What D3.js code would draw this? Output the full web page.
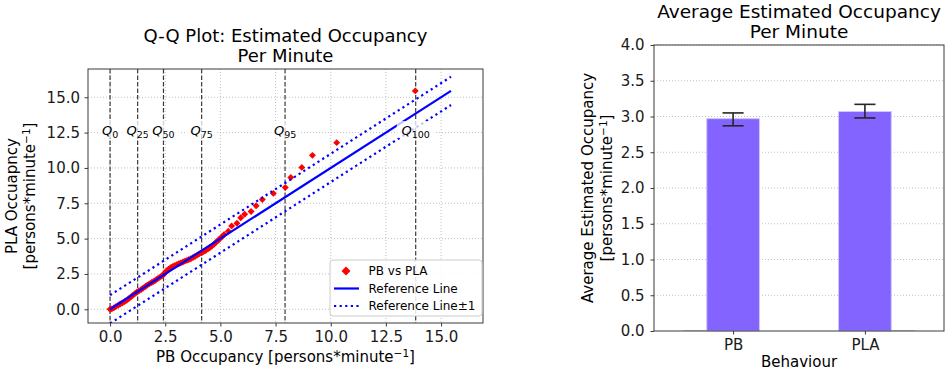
<!DOCTYPE html>
<html>
<head>
<meta charset="utf-8">
<script src="https://cdn.jsdelivr.net/npm/d3@7"></script>
<style>
  body { margin: 0; background: #fff; }
  svg { font-family: "DejaVu Sans", sans-serif; }
</style>
</head>
<body>
<svg id="chart" width="949" height="372"></svg>
<script>
// Q-Q points (PB quantiles vs PLA quantiles)
const pbQuant = [0.0, 0.08, 0.17, 0.26, 0.37, 0.46, 0.55, 0.66, 0.75, 0.84, 0.93, 1.02, 1.12, 1.21, 1.3, 1.41, 1.5, 1.6, 1.69, 1.78, 1.88, 1.97, 2.06, 2.15, 2.25, 2.34, 2.42, 2.5, 2.57, 2.65, 2.74, 2.83, 2.92, 3.02, 3.11, 3.2, 3.3, 3.39, 3.48, 3.57, 3.66, 3.76, 3.85, 3.95, 4.04, 4.15, 4.24, 4.33, 4.43, 4.52, 4.61, 4.7, 4.79, 4.88, 4.96, 5.06, 5.17, 5.36, 5.51, 5.75, 5.92, 6.1, 6.39, 6.62, 6.9, 7.4, 7.94, 8.19, 8.69, 9.17, 10.27, 13.83];
const plaQuant = [0.0, 0.03, 0.1, 0.19, 0.29, 0.37, 0.45, 0.55, 0.64, 0.74, 0.86, 0.98, 1.1, 1.2, 1.29, 1.4, 1.5, 1.61, 1.71, 1.8, 1.89, 1.97, 2.06, 2.16, 2.26, 2.36, 2.46, 2.6, 2.73, 2.84, 2.94, 3.02, 3.09, 3.16, 3.22, 3.28, 3.35, 3.41, 3.46, 3.52, 3.58, 3.66, 3.74, 3.83, 3.92, 4.0, 4.08, 4.16, 4.26, 4.36, 4.47, 4.59, 4.72, 4.85, 4.97, 5.12, 5.29, 5.53, 5.9, 6.09, 6.47, 6.73, 6.92, 7.32, 7.77, 8.2, 8.62, 9.33, 10.04, 10.89, 11.79, 15.45];
const refLine = [0, 15.45];
const quantileAt = [0, 1.25, 2.42, 4.15, 7.93, 13.85];
const quantileName = ["0", "25", "50", "75", "95", "100"];
const qqTicks = [0, 2.5, 5, 7.5, 10, 12.5, 15];

// bar chart
const behaviours = ["PB", "PLA"];
const meanOcc = [2.97, 3.07];
const errLow = [2.87, 2.98];
const errHigh = [3.05, 3.17];
const emptyBarsAt = [-0.38, 1.2];
const barTicks = [0, 0.5, 1, 1.5, 2, 2.5, 3, 3.5, 4];

const svg = d3.select("#chart");
const fmt = d3.format(".1f");
const gridColor = "#b0b0b0";

function unitLabel(sel, main) {
  sel.append("tspan").text(main);
  sel.append("tspan").attr("font-size", "10.5px").attr("dy", "-0.5em").text("\u22121");
  sel.append("tspan").attr("dy", "0.35em").text("]");
}

// ---------- left: Q-Q plot ----------
const L = { left: 88, right: 483, top: 69, bottom: 323 };
const x = d3.scaleLinear().domain([-1.0, 16.9]).range([L.left, L.right]);
const y = d3.scaleLinear().domain([-0.97, 17.0]).range([L.bottom, L.top]);

svg.append("defs").append("clipPath").attr("id", "qqclip")
  .append("rect").attr("x", L.left).attr("y", L.top)
  .attr("width", L.right - L.left).attr("height", L.bottom - L.top);

const gq = svg.append("g");
const plot = gq.append("g").attr("clip-path", "url(#qqclip)");

// grid
plot.selectAll(".gx").data(qqTicks).enter().append("line")
  .attr("x1", d => x(d)).attr("x2", d => x(d)).attr("y1", L.top).attr("y2", L.bottom)
  .attr("stroke", gridColor).attr("stroke-width", 0.8).attr("stroke-dasharray", "1,2");
plot.selectAll(".gy").data(qqTicks).enter().append("line")
  .attr("x1", L.left).attr("x2", L.right).attr("y1", d => y(d)).attr("y2", d => y(d))
  .attr("stroke", gridColor).attr("stroke-width", 0.8).attr("stroke-dasharray", "1,2");

// quantile markers
plot.selectAll(".qline").data(quantileAt).enter().append("line")
  .attr("x1", d => x(d)).attr("x2", d => x(d)).attr("y1", L.top).attr("y2", L.bottom)
  .attr("stroke", "#3a3a3a").attr("stroke-width", 1.2).attr("stroke-dasharray", "4.5,2");

// points
const pts = pbQuant.map((d, i) => [d, plaQuant[i]]);
const diamond = d3.symbol(d3.symbolSquare, 24);
plot.selectAll(".pt").data(pts).enter().append("path")
  .attr("d", diamond)
  .attr("transform", d => "translate(" + x(d[0]) + "," + y(d[1]) + ") rotate(45)")
  .attr("fill", "#ff0000");

// reference lines
const line = d3.line().x(d => x(d[0])).y(d => y(d[1]));
plot.append("path").datum(refLine.map(d => [d, d]))
  .attr("d", line).attr("fill", "none").attr("stroke", "#0000ff").attr("stroke-width", 2.2);
[1, -1].forEach(off => {
  plot.append("path").datum(refLine.map(d => [d, d + off]))
    .attr("d", line).attr("fill", "none").attr("stroke", "#0000ff")
    .attr("stroke-width", 2.2).attr("stroke-dasharray", "2.2,3.4");
});

// quantile labels
const ql = gq.selectAll(".ql").data(quantileAt).enter().append("g")
  .attr("transform", d => "translate(" + x(d) + ",131)");
ql.append("rect")
  .attr("x", (d, i) => -(7 + quantileName[i].length * 3.3) - 2)
  .attr("width", (d, i) => (7 + quantileName[i].length * 3.3) * 2 + 4)
  .attr("y", -10).attr("height", 17)
  .attr("fill", "#fff").attr("opacity", 0.75);
const qt = ql.append("text").attr("text-anchor", "middle").attr("font-size", "13px").attr("y", 4);
qt.append("tspan").attr("font-style", "italic").text("Q");
qt.append("tspan").attr("font-size", "9.5px").attr("dy", "2.5").text((d, i) => quantileName[i]);

// spines
gq.append("rect").attr("x", L.left).attr("y", L.top)
  .attr("width", L.right - L.left).attr("height", L.bottom - L.top)
  .attr("fill", "none").attr("stroke", "#3a3a3a").attr("stroke-width", 1);

// axes
const xa = gq.append("g").attr("transform", "translate(0," + L.bottom + ")")
  .call(d3.axisBottom(x).tickValues(qqTicks).tickFormat(fmt).tickSize(3.5).tickPadding(5));
const ya = gq.append("g").attr("transform", "translate(" + L.left + ",0)")
  .call(d3.axisLeft(y).tickValues(qqTicks).tickFormat(fmt).tickSize(3.5).tickPadding(4.5));
[xa, ya].forEach(a => {
  a.select(".domain").remove();
  a.selectAll("text").attr("font-size", "15px").attr("fill", "#1a1a1a").attr("font-family", "DejaVu Sans");
  a.selectAll("line").attr("stroke", "#3a3a3a");
});

// titles and labels
gq.append("text").attr("x", (L.left + L.right) / 2).attr("y", 42).attr("text-anchor", "middle")
  .attr("font-size", "18px").text("Q-Q Plot: Estimated Occupancy");
gq.append("text").attr("x", (L.left + L.right) / 2).attr("y", 62).attr("text-anchor", "middle")
  .attr("font-size", "18px").text("Per Minute");
unitLabel(gq.append("text").attr("x", (L.left + L.right) / 2).attr("y", 362)
  .attr("text-anchor", "middle").attr("font-size", "15px"), "PB Occupancy [persons*minute");
gq.append("text").attr("transform", "translate(17,196) rotate(-90)").attr("text-anchor", "middle")
  .attr("font-size", "15px").text("PLA Occuapncy");
unitLabel(gq.append("text").attr("transform", "translate(35,196) rotate(-90)")
  .attr("text-anchor", "middle").attr("font-size", "15px"), "[persons*minute");

// legend
const lg = gq.append("g").attr("transform", "translate(330,260)");
lg.append("rect").attr("width", 152).attr("height", 56).attr("rx", 3)
  .attr("fill", "#fff").attr("fill-opacity", 0.85).attr("stroke", "#cccccc");
lg.append("path").attr("d", d3.symbol(d3.symbolSquare, 40))
  .attr("transform", "translate(16,11) rotate(45)").attr("fill", "#ff0000");
lg.append("line").attr("x1", 4).attr("x2", 29).attr("y1", 28.5).attr("y2", 28.5)
  .attr("stroke", "#0000ff").attr("stroke-width", 2.2);
lg.append("line").attr("x1", 4).attr("x2", 29).attr("y1", 46).attr("y2", 46)
  .attr("stroke", "#0000ff").attr("stroke-width", 2.2).attr("stroke-dasharray", "2.2,3.4");
[["PB vs PLA", 15], ["Reference Line", 32.5], ["Reference Line\u00b11", 50]].forEach(t => {
  lg.append("text").attr("x", 38.5).attr("y", t[1]).attr("font-size", "12px").text(t[0]);
});

// ---------- right: bar chart ----------
const R = { left: 654, right: 944, top: 45, bottom: 331 };
const xb = d3.scaleLinear().domain([-0.6, 1.6]).range([R.left, R.right]);
const yb = d3.scaleLinear().domain([0, 4]).range([R.bottom, R.top]);
const gb = svg.append("g");
const barW = 0.4, capW = 0.16, emptyW = 0.18;

gb.selectAll(".gy").data(barTicks.slice(1)).enter().append("line")
  .attr("x1", R.left).attr("x2", R.right).attr("y1", d => yb(d)).attr("y2", d => yb(d))
  .attr("stroke", gridColor).attr("stroke-width", 0.8).attr("stroke-dasharray", "1,2");

gb.selectAll(".empty").data(emptyBarsAt).enter().append("line")
  .attr("x1", d => xb(d)).attr("x2", d => xb(d + emptyW))
  .attr("y1", yb(0) - 0.5).attr("y2", yb(0) - 0.5)
  .attr("stroke", "#d0d0d0").attr("stroke-width", 1);

gb.selectAll(".bar").data(meanOcc).enter().append("rect")
  .attr("x", (d, i) => xb(i - barW / 2)).attr("width", xb(barW) - xb(0))
  .attr("y", d => yb(d)).attr("height", d => yb(0) - yb(d))
  .attr("fill", "#8464ff").attr("stroke", "#cfc6ff").attr("stroke-width", 1);

const eb = gb.selectAll(".err").data(meanOcc).enter().append("g");
eb.append("line").attr("x1", (d, i) => xb(i)).attr("x2", (d, i) => xb(i))
  .attr("y1", (d, i) => yb(errLow[i])).attr("y2", (d, i) => yb(errHigh[i]))
  .attr("stroke", "#262626").attr("stroke-width", 1.6);
[errLow, errHigh].forEach(arr => {
  eb.append("line").attr("x1", (d, i) => xb(i - capW / 2)).attr("x2", (d, i) => xb(i + capW / 2))
    .attr("y1", (d, i) => yb(arr[i])).attr("y2", (d, i) => yb(arr[i]))
    .attr("stroke", "#262626").attr("stroke-width", 1.6);
});

gb.append("rect").attr("x", R.left).attr("y", R.top)
  .attr("width", R.right - R.left).attr("height", R.bottom - R.top)
  .attr("fill", "none").attr("stroke", "#3a3a3a").attr("stroke-width", 1);

const xba = gb.append("g").attr("transform", "translate(0," + R.bottom + ")")
  .call(d3.axisBottom(xb).tickValues([0, 1]).tickFormat(i => behaviours[i]).tickSize(3.5).tickPadding(5));
const yba = gb.append("g").attr("transform", "translate(" + R.left + ",0)")
  .call(d3.axisLeft(yb).tickValues(barTicks).tickFormat(fmt).tickSize(3.5).tickPadding(6));
[xba, yba].forEach(a => {
  a.select(".domain").remove();
  a.selectAll("text").attr("font-size", "15px").attr("fill", "#1a1a1a").attr("font-family", "DejaVu Sans");
  a.selectAll("line").attr("stroke", "#3a3a3a");
});

gb.append("text").attr("x", (R.left + R.right) / 2).attr("y", 18).attr("text-anchor", "middle")
  .attr("font-size", "18.5px").text("Average Estimated Occupancy");
gb.append("text").attr("x", (R.left + R.right) / 2).attr("y", 38).attr("text-anchor", "middle")
  .attr("font-size", "18.5px").text("Per Minute");
gb.append("text").attr("x", (R.left + R.right) / 2).attr("y", 367).attr("text-anchor", "middle")
  .attr("font-size", "15px").text("Behaviour");
gb.append("text").attr("transform", "translate(593,188) rotate(-90)").attr("text-anchor", "middle")
  .attr("font-size", "15px").text("Average Estimated Occupancy");
unitLabel(gb.append("text").attr("transform", "translate(612,188) rotate(-90)")
  .attr("text-anchor", "middle").attr("font-size", "15px"), "[persons*minute");
</script>
</body>
</html>
